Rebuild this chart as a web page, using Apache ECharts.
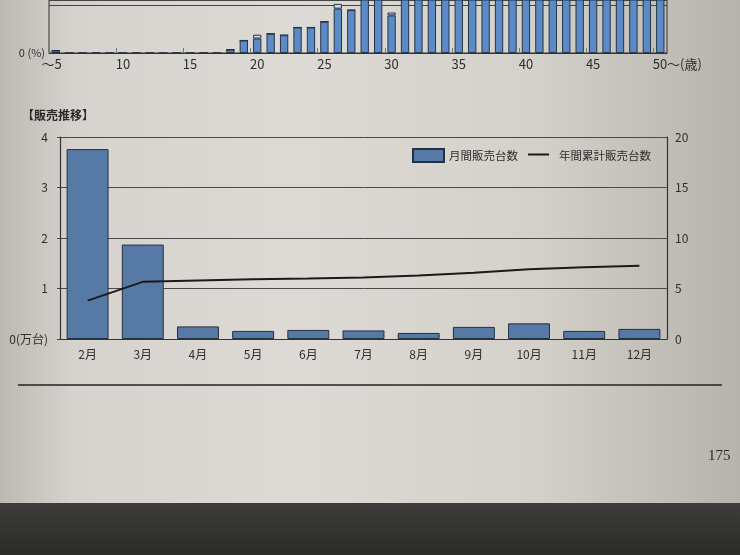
<!DOCTYPE html>
<html><head><meta charset="utf-8">
<script src="https://cdn.jsdelivr.net/npm/echarts@6/dist/echarts.min.js"></script>
<style>
html,body{margin:0;padding:0;width:740px;height:555px;overflow:hidden;}
body{position:relative;background:linear-gradient(to right,#bcb9b3 0%,#d6d3ce 10%,#dddad5 40%,#d4d1cb 72%,#b6b3ac 100%);}
#floor{position:absolute;left:0;top:503px;width:740px;height:52px;background:linear-gradient(to bottom,#3c3c3a,#2b2b29);}
#chart{position:absolute;left:0;top:0;width:740px;height:555px;}
</style></head>
<body>
<div id="floor"></div>
<div id="chart"></div>
<script>
// ---- top (cut-off) age chart ----
const ageCategories = ['5','6','7','8','9','10','11','12','13','14','15','16','17','18','19','20','21','22','23','24','25','26','27','28','29','30','31','32','33','34','35','36','37','38','39','40','41','42','43','44','45','46','47','48','49','50'];
const ageTickLabels = ['～5','10','15','20','25','30','35','40','45','50～(歳)'];
const ageShareMain = [0.5,0,0,0,0,0,0,0,0,0,0,0,0,0.7,2.6,3.0,4.0,3.7,5.3,5.3,6.5,9.2,8.9,14,13.5,7.8,12.5,11.8,13.2,14.0,12.9,13.6,14.4,13.1,12.7,13.9,14.2,12.6,13.3,12.4,13.0,12.2,11.9,12.8,11.6,15.5];
const ageShareCap  = [0,0,0,0,0,0,0,0,0,0,0,0,0,0,0,0.8,0,0,0,0,0,1.0,0,0,0,0.6,0,0,0,0,0,0,0,0,0,0,0,0,0,0,0,0,0,0,0,0];

// ---- main chart: 販売推移 ----
const months = ['2月','3月','4月','5月','6月','7月','8月','9月','10月','11月','12月'];
const monthlySales = [3.76,1.87,0.25,0.16,0.18,0.17,0.12,0.24,0.31,0.16,0.20];
const cumulativeSales = [3.8,5.66,5.79,5.91,6.0,6.1,6.28,6.56,6.9,7.1,7.25];
const leftTickLabels = {0:'0(万台)',1:'1',2:'2',3:'3',4:'4'};
const rightTicks = [0,5,10,15,20];

const FONT = '"Noto Sans CJK JP","Noto Sans",sans-serif';
const LINE_ICON = 'path://M0,0H0.05V0.05H0Z M5,4.6H26V6.5H5Z M30.95,12.95H31V13H30.95Z';
const chart = echarts.init(document.getElementById('chart'), null, {renderer:'canvas'});
chart.setOption({
  backgroundColor: 'transparent',
  animation: false,
  textStyle: {fontFamily: FONT, color: '#2e2e2e'},
  title: [
    {text: '【販売推移】', left: 17, top: 104, textStyle: {fontFamily: FONT, fontSize: 12, fontWeight: 'bold', color: '#2a2a2a'}},
    {text: '175', left: 703, top: 444, textStyle: {fontFamily: '"Liberation Serif","DejaVu Serif",serif', fontSize: 15, fontWeight: 'normal', color: '#2a2a2a'}}
  ],
  legend: {
    data: [{name:'月間販売台数', icon:'rect'}, {name:'年間累計販売台数', icon: LINE_ICON}],
    left: 407, top: 143, itemWidth: 31, itemHeight: 13, itemGap: 5, symbolKeepAspect: false,
    textStyle: {fontFamily: FONT, fontSize: 11.5, color: '#2e2e2e'}
  },
  grid: [
    {left: 49, right: 73, top: -2, height: 55, show: true, borderColor: '#333', borderWidth: 1, backgroundColor: 'transparent'},
    {left: 60, right: 73, top: 137, height: 202}
  ],
  xAxis: [
    {type:'category', gridIndex:0, data: ageCategories,
     axisLine:{show:true, lineStyle:{color:'#333'}},
     axisTick:{show:true, inside:true, length:5, lineStyle:{color:'#777'}},
     axisLabel:{interval: function(i){return i % 5 === 0;}, margin: 5, fontSize: 13, fontFamily: FONT, color:'#2e2e2e',
       formatter: function(v, i){ const s = ageTickLabels[Math.round(i/5)]; if (i === 0) return '{a|'+s+'}'; if (i === 45) return '{b|'+s+'}'; return s; },
       rich: {a:{fontSize:13, fontFamily:FONT, color:'#2e2e2e', padding:[0,8,0,0]}, b:{fontSize:13, fontFamily:FONT, color:'#2e2e2e', padding:[0,0,0,34]}}}},
    {type:'category', gridIndex:1, data: months,
     axisLine:{show:true, lineStyle:{color:'#333', width:1.2}},
     axisTick:{show:false},
     axisLabel:{margin: 9, fontSize: 12, fontFamily: FONT, color:'#2e2e2e'}}
  ],
  yAxis: [
    {type:'value', gridIndex:0, min:0, max:11, interval:10,
     axisLine:{show:false}, axisTick:{show:false},
     splitLine:{show:true, lineStyle:{color:'#444', width:1}},
     axisLabel:{margin:4, fontSize:11, fontFamily:FONT, color:'#2e2e2e', formatter: function(v){return v === 0 ? '0 (%)' : '';}}},
    {type:'value', gridIndex:1, min:0, max:4, interval:1, position:'left',
     axisLine:{show:true, lineStyle:{color:'#333', width:1.2}},
     axisTick:{show:true, length:3, lineStyle:{color:'#444'}},
     splitLine:{show:true, lineStyle:{color:'#4a4a4a', width:1}},
     axisLabel:{margin: 12, fontSize: 12, fontFamily: FONT, color:'#2e2e2e', formatter: function(v){return leftTickLabels[v];}}},
    {type:'value', gridIndex:1, min:0, max:20, interval:5, position:'right',
     axisLine:{show:true, lineStyle:{color:'#333', width:1.2}},
     axisTick:{show:false},
     splitLine:{show:false},
     axisLabel:{margin: 8, fontSize: 12, fontFamily: FONT, color:'#2e2e2e', formatter: function(v){return rightTicks.indexOf(v) >= 0 ? String(v) : '';}}}
  ],
  series: [
    {name:'年齢別', type:'bar', xAxisIndex:0, yAxisIndex:0, stack:'age', data: ageShareMain, barWidth:'62%', clip:true,
     itemStyle:{color:'#5b8bc6', borderColor:'#26344a', borderWidth:1}},
    {name:'年齢別上部', type:'bar', xAxisIndex:0, yAxisIndex:0, stack:'age', data: ageShareCap, barWidth:'62%', clip:true,
     itemStyle:{color:'#c9d6e6', borderColor:'#26344a', borderWidth:1}},
    {name:'月間販売台数', type:'bar', xAxisIndex:1, yAxisIndex:1, data: monthlySales, barWidth:'76%',
     itemStyle:{color:'#5779a6', borderColor:'#23303f', borderWidth:1}},
    {name:'年間累計販売台数', type:'line', xAxisIndex:1, yAxisIndex:2, data: cumulativeSales, symbol:'none',
     lineStyle:{color:'#1a1a1a', width:2}, itemStyle:{color:'#1a1a1a'}}
  ],
  graphic: [
    {type:'line', shape:{x1:18, y1:385, x2:722, y2:385}, style:{stroke:'#222', lineWidth:1.5}}
  ]
});
</script>
</body></html>
